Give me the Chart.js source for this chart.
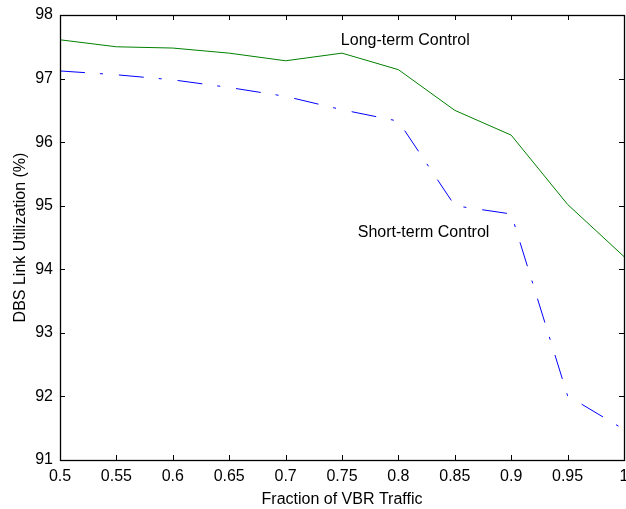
<!DOCTYPE html>
<html>
<head>
<meta charset="utf-8">
<script src="https://cdn.jsdelivr.net/npm/chart.js@4/dist/chart.umd.min.js"></script>
<style>
html,body{margin:0;padding:0;background:#fff;}
#wrap{width:626px;height:509px;}
</style>
</head>
<body>
<div id="wrap"><canvas id="c" width="626" height="509"></canvas></div>
<script>
const fractions = [0.5, 0.55, 0.6, 0.65, 0.7, 0.75, 0.8, 0.85, 0.9, 0.95, 1.0];
const longTerm  = [97.61, 97.50, 97.48, 97.40, 97.28, 97.40, 97.14, 96.50, 96.11, 95.02, 94.20];
const shortTerm = [97.12, 97.06, 96.98, 96.86, 96.72, 96.51, 96.33, 95.00, 94.87, 92.01, 91.48];
const xTicks = [0.5, 0.55, 0.6, 0.65, 0.7, 0.75, 0.8, 0.85, 0.9, 0.95, 1];
const yTicks = [91, 92, 93, 94, 95, 96, 97, 98];
const labels = [
  {text: 'Long-term Control', x: 0.749, y: 97.6},
  {text: 'Short-term Control', x: 0.764, y: 94.57}
];

const FONT = '"Liberation Sans", Arial, sans-serif';

const boxTicks = {
  id: 'boxTicks',
  afterDraw(chart) {
    const {ctx, chartArea: a, scales: {x, y}} = chart;
    ctx.save();
    ctx.strokeStyle = '#000';
    ctx.lineWidth = 1;
    ctx.beginPath();
    const L = 5;
    xTicks.forEach(v => {
      const px = Math.round(x.getPixelForValue(v)) + 0.5;
      ctx.moveTo(px, a.bottom); ctx.lineTo(px, a.bottom - L);
      ctx.moveTo(px, a.top); ctx.lineTo(px, a.top + L);
    });
    yTicks.forEach(v => {
      const py = Math.round(y.getPixelForValue(v)) + 0.5;
      ctx.moveTo(a.left, py); ctx.lineTo(a.left + L, py);
      ctx.moveTo(a.right, py); ctx.lineTo(a.right - L, py);
    });
    ctx.stroke();
    ctx.lineWidth = 1.3;
    ctx.strokeRect(Math.round(a.left) + 0.5, Math.round(a.top) + 0.5,
      Math.round(a.right - a.left), Math.round(a.bottom - a.top));
    ctx.fillStyle = '#000';
    ctx.font = '16px ' + FONT;
    ctx.textAlign = 'left';
    ctx.textBaseline = 'middle';
    labels.forEach(l => {
      ctx.fillText(l.text, x.getPixelForValue(l.x), y.getPixelForValue(l.y));
    });
    ctx.restore();
  }
};

new Chart(document.getElementById('c'), {
  type: 'line',
  data: {
    datasets: [
      {
        label: 'Long-term Control',
        data: fractions.map((f, i) => ({x: f, y: longTerm[i]})),
        borderColor: '#008000',
        borderWidth: 1,
        pointRadius: 0,
        tension: 0,
        fill: false
      },
      {
        label: 'Short-term Control',
        data: fractions.map((f, i) => ({x: f, y: shortTerm[i]})),
        borderColor: '#0000ff',
        borderWidth: 1,
        borderDash: [25, 15, 3, 16],
        pointRadius: 0,
        tension: 0,
        fill: false
      }
    ]
  },
  options: {
    responsive: false,
    animation: false,
    devicePixelRatio: 1,
    layout: {padding: {top: 15, right: 2, left: 0, bottom: 0}},
    plugins: {legend: {display: false}, tooltip: {enabled: false}},
    scales: {
      x: {
        type: 'linear',
        min: 0.5, max: 1,
        afterBuildTicks(s) { s.ticks = xTicks.map(v => ({value: v})); },
        afterFit(s) { s.height = 49; s.paddingLeft = 0; s.paddingRight = 0; },
        grid: {display: false, drawTicks: false},
        border: {display: false},
        ticks: {
          color: '#000', padding: 7, maxRotation: 0, autoSkip: false,
          font: {family: FONT, size: 16},
          callback: v => String(Number(v.toFixed(2)))
        },
        title: {
          display: true, text: 'Fraction of VBR Traffic', color: '#000',
          font: {family: FONT, size: 16}, padding: {top: 2, bottom: 0}
        }
      },
      y: {
        type: 'linear',
        min: 91, max: 98,
        afterBuildTicks(s) { s.ticks = yTicks.map(v => ({value: v})); },
        afterFit(s) { s.width = 60; s.paddingTop = 0; s.paddingBottom = 0; },
        grid: {display: false, drawTicks: false},
        border: {display: false},
        ticks: {
          color: '#000', padding: 7, autoSkip: false,
          font: {family: FONT, size: 16},
          callback: v => String(v)
        },
        title: {
          display: true, text: 'DBS Link Utilization (%)', color: '#000',
          font: {family: FONT, size: 16}, padding: {top: 11, bottom: 0}
        }
      }
    }
  },
  plugins: [boxTicks]
});
</script>
</body>
</html>
